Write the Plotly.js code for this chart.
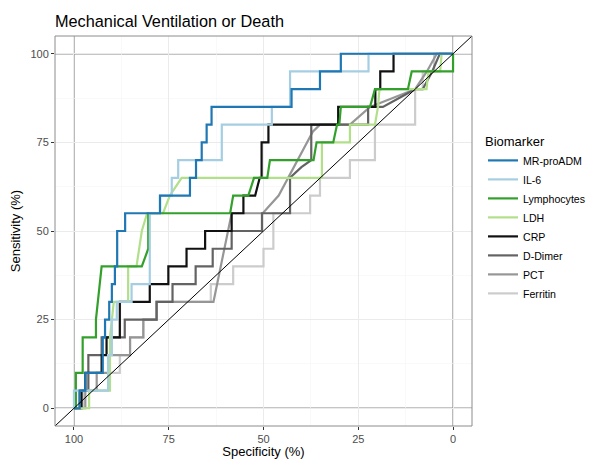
<!DOCTYPE html>
<html>
<head>
<meta charset="utf-8">
<script src="https://cdn.plot.ly/plotly-3.0.1.min.js"></script>
<style>html,body{margin:0;padding:0;background:#fff;}#chart{width:591px;height:459px;}</style>
</head>
<body>
<div id="chart"></div>
<script>
// ---- data (specificity %, sensitivity %) ----
const biomarkers = ["MR-proADM", "IL-6", "Lymphocytes", "LDH", "CRP", "D-Dimer", "PCT", "Ferritin"];
const colors = ["#1f78b4", "#a6cee3", "#33a02c", "#b2df8a", "#111111", "#636363", "#969696", "#cccccc"];

const mrproadmSpec = [100, 98.5, 98.5, 97, 97, 92.4, 92.4, 91.8, 91.8, 90.7, 90.7, 90, 90, 89.2, 89.2, 88.6, 88.6, 86.5, 86.5, 77.3, 77.3, 69.4, 69.4, 67.8, 67.8, 66.3, 66.3, 65, 65, 63.7, 63.7, 42.6, 42.6, 35.1, 35.1, 29.6, 29.6, 0];
const mrproadmSens = [0, 0, 5, 5, 10, 10, 20, 20, 25, 25, 30, 30, 35, 35, 40, 40, 50, 50, 55, 55, 60, 60, 65, 65, 70, 70, 75, 75, 80, 80, 85, 85, 90, 90, 95, 95, 100, 100];

const il6Spec = [100, 100, 91, 91, 90, 90, 88.7, 88.7, 84.8, 84.8, 80, 80, 77.3, 77.3, 74.2, 74.2, 72.5, 72.5, 61, 61, 47.8, 47.8, 43, 43, 22.3, 22.3, 0];
const il6Sens = [0, 5, 5, 15, 15, 25, 25, 30, 30, 35, 35, 55, 55, 60, 60, 65, 65, 70, 70, 80, 80, 85, 85, 95, 95, 100, 100];

const lymphSpec = [100, 99.5, 99.5, 97.7, 97.7, 94.2, 94.2, 92.7, 82.1, 80.4, 80.4, 58.8, 58, 54, 52.5, 49, 48.3, 36.8, 36, 31.6, 30.6, 30, 29.6, 21.9, 20.6, 11.9, 10.9, 0, 0];
const lymphSens = [0, 0, 10, 10, 20, 20, 25, 40, 40, 45, 55, 55, 60, 60, 65, 65, 70, 70, 75, 75, 80, 80, 85, 85, 90, 90, 95, 95, 100];

const ldhSpec = [100, 96, 96, 90.5, 90.5, 90, 89.5, 85.7, 85.7, 83.5, 82.1, 80.7, 76.5, 74.7, 71.6, 34.6, 34.6, 27.2, 27.2, 20.6, 19.8, 19.4, 7, 6.5, 3.4, 3, 0];
const ldhSens = [0, 0, 5, 5, 20, 25, 30, 30, 40, 40, 50, 55, 55, 60, 65, 65, 75, 75, 80, 80, 85, 90, 90, 95, 95, 100, 100];

const crpSpec = [100, 98, 98, 97, 97, 92.7, 92.7, 91.4, 91.4, 87.9, 87.9, 80, 80, 75.1, 75.1, 70.3, 70.3, 65.4, 65.4, 58.4, 58.4, 55.3, 55.3, 52.2, 51, 50.5, 50.5, 48.7, 48.7, 30.3, 30.3, 20.5, 20.5, 19.2, 19.2, 15.7, 15.7, 0];
const crpSens = [0, 0, 5, 5, 10, 10, 15, 15, 20, 20, 30, 30, 35, 35, 40, 40, 45, 45, 50, 50, 55, 55, 60, 60, 65, 65, 75, 75, 80, 80, 85, 85, 90, 90, 95, 95, 100, 100];

const ddimerSpec = [100, 98.5, 98.5, 96.2, 96.2, 92.7, 92.7, 86.6, 86.6, 78.2, 78.2, 74, 74, 67.9, 67.9, 63.4, 63.4, 58.4, 58.4, 50.4, 50.4, 43, 43, 40, 37.4, 37.4, 22.4, 22.4, 18.5, 10, 8, 5.5, 3.5, 0];
const ddimerSens = [0, 0, 5, 5, 15, 15, 20, 20, 25, 25, 30, 30, 35, 35, 40, 40, 45, 45, 50, 50, 55, 55, 65, 68, 70, 80, 80, 85, 85, 90, 90, 95, 100, 100];

const pctSpec = [100, 97, 97, 94, 94, 91, 91, 85.2, 85.2, 81.7, 81.7, 78.2, 78.2, 63.2, 58.4, 50.2, 46, 43, 40, 37, 35.1, 27.2, 21.9, 10, 6.9, 4.3, 0];
const pctSens = [0, 0, 5, 5, 10, 10, 15, 15, 20, 20, 25, 25, 30, 30, 55, 55, 60, 66, 72, 78, 80, 80, 85, 90, 95, 100, 100];

const ferritinSpec = [100, 97.5, 97.5, 91, 91, 87.9, 87.9, 85.2, 85.2, 81.7, 81.7, 78.2, 78.2, 63.9, 63.9, 58, 58, 50, 50, 47.4, 47.4, 37.7, 37.7, 35.1, 35.1, 27.2, 27.2, 20.6, 20.6, 10, 10, 8, 8, 5, 5, 0];
const ferritinSens = [0, 0, 5, 5, 10, 10, 15, 15, 20, 20, 25, 25, 30, 30, 35, 35, 40, 40, 45, 45, 55, 55, 60, 60, 65, 65, 70, 70, 80, 80, 90, 90, 95, 95, 100, 100];

const specList = [mrproadmSpec, il6Spec, lymphSpec, ldhSpec, crpSpec, ddimerSpec, pctSpec, ferritinSpec];
const sensList = [mrproadmSens, il6Sens, lymphSens, ldhSens, crpSens, ddimerSens, pctSens, ferritinSens];

const axisTicks = [100, 75, 50, 25, 0];
const minorTicks = [87.5, 62.5, 37.5, 12.5];
const refLines = [0, 100];

// ---- traces: drawn last-to-first so MR-proADM ends on top ----
const traces = [];
for (let i = biomarkers.length - 1; i >= 0; i--) {
  traces.push({
    type: "scatter", mode: "lines", name: biomarkers[i],
    x: specList[i], y: sensList[i],
    line: {color: colors[i], width: 2.2},
    hoverinfo: "name"
  });
}
traces.push({
  type: "scatter", mode: "lines", x: [105, -5], y: [-5, 105],
  line: {color: "#000000", width: 1}, showlegend: false, hoverinfo: "skip"
});

const shapes = [];
refLines.forEach(v => {
  shapes.push({type: "line", xref: "x", yref: "paper", x0: v, x1: v, y0: 0, y1: 1, line: {color: "#8c8c8c", width: 1.3}, layer: "between"});
  shapes.push({type: "line", xref: "paper", yref: "y", x0: 0, x1: 1, y0: v, y1: v, line: {color: "#8c8c8c", width: 1.3}, layer: "between"});
});
shapes.push({type: "rect", xref: "paper", yref: "paper", x0: 0, x1: 1, y0: 0, y1: 1, line: {color: "#8c8c8c", width: 1}, fillcolor: "rgba(0,0,0,0)", layer: "above"});

const axisCommon = {
  tickvals: axisTicks, ticks: "outside", ticklen: 3, tickwidth: 1, tickcolor: "#333333",
  tickfont: {family: "Liberation Sans, Arial, sans-serif", size: 11, color: "#4d4d4d"},
  showgrid: true, gridcolor: "#ebebeb", gridwidth: 1, zeroline: false, showline: false,
  minor: {tickvals: minorTicks, showgrid: true, gridcolor: "#f5f5f5", gridwidth: 0.6, ticks: ""}
};

const layout = {
  width: 591, height: 459,
  margin: {l: 55, r: 119, t: 36, b: 33, autoexpand: false},
  paper_bgcolor: "#ffffff", plot_bgcolor: "#ffffff",
  font: {family: "Liberation Sans, Arial, sans-serif", color: "#000000"},
  title: {text: "Mechanical Ventilation or Death", font: {size: 16.3, color: "#000000"},
          xref: "container", x: 55 / 591, xanchor: "left", yref: "container", y: 1 - 21 / 459, yanchor: "middle"},
  xaxis: Object.assign({}, axisCommon, {range: [105, -5],
          title: {text: "Specificity (%)", font: {size: 13, color: "#000000"}, standoff: 4}}),
  yaxis: Object.assign({}, axisCommon, {range: [-5, 105],
          title: {text: "Sensitivity (%)", font: {size: 13, color: "#000000"}, standoff: 6}}),
  legend: {xref: "container", yref: "container", x: 483 / 591, xanchor: "left", y: 1 - 129 / 459, yanchor: "top",
           traceorder: "reversed",
           font: {size: 10.6, color: "#000000"}, title: {text: "Biomarker", font: {size: 13}},
           bgcolor: "rgba(0,0,0,0)", itemwidth: 30, tracegroupgap: 0},
  shapes: shapes,
  showlegend: true
};

Plotly.newPlot("chart", traces, layout, {displayModeBar: false, staticPlot: true});
</script>
</body>
</html>
